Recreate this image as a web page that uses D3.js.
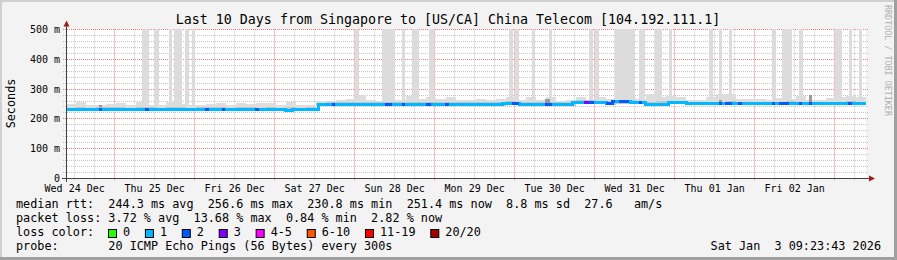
<!DOCTYPE html>
<html>
<head>
<meta charset="utf-8">
<script src="https://cdn.jsdelivr.net/npm/d3@7"></script>
<style>
  html, body { margin: 0; padding: 0; background: #f3f3f3; }
  svg { display: block; font-family: "DejaVu Sans Mono", monospace; }
  text { white-space: pre; }
</style>
</head>
<body>
<svg id="chart" width="897" height="260"></svg>
<script>
/* ---------- data ---------- */
const START = new Date(2025, 11, 24, 9, 23, 43);
const END   = new Date(2026, 0, 3, 9, 23, 43);
const TITLE = 'Last 10 Days from Singapore to [US/CA] China Telecom [104.192.111.1]';

const Y_TICKS  = [0, 100, 200, 300, 400, 500];
const Y_LABELS = ['0', '100 m', '200 m', '300 m', '400 m', '500 m'];

// median rtt, step breakpoints: hours since START -> ms
const MEDIAN_H  = [0, 65.7, 67.8, 75.6, 108.6, 109.8, 130.8, 135.9, 151.8, 162, 163.8, 169.2, 173.7, 180.6, 186];
const MEDIAN_MS = [231, 229, 231, 248, 250, 248, 251, 248, 256, 252, 257, 254, 250, 254, 251];

// spans where the median had more than 1 lost ping: [fromHour, toHour, lost]
const LOSS_SPANS = [
  [9.9, 10.8, 2], [23.7, 24.9, 2], [41.7, 42.9, 2], [46.8, 47.7, 2], [56.7, 57.9, 2],
  [79.8, 80.7, 2], [95.7, 97.8, 2], [100.7, 101.7, 2], [107.9, 109.5, 2], [113.7, 114.9, 2],
  [133.8, 135.9, 2], [143.7, 145.8, 2], [155.4, 156.9, 3], [156.9, 158.4, 2], [162, 164.7, 2],
  [165.9, 168.9, 2], [171.9, 172.8, 2], [195.9, 196.8, 2], [197.7, 199.8, 2], [201.6, 202.8, 2],
  [211.8, 212.7, 2], [213.9, 216.9, 2], [219.9, 220.8, 2], [222.9, 223.8, 2], [234.6, 235.8, 2]
];
const DEFAULT_LOSS = 1;

// smoke, 3-hour bins (80 bins over 10 days), ms
const SMOKE_LO = [
  227,227,226,227,227,226,227,227,226,227,227,227,226,227,227,226,227,227,226,227,
  227,226,225,227,227,244,244,243,244,244,244,243,244,244,244,244,245,244,244,243,
  244,244,244,244,246,246,244,244,243,244,244,251,251,250,248,251,250,250,246,246,
  249,249,246,247,246,246,247,246,246,246,247,246,246,246,247,246,246,246,247,246
];
const SMOKE_MID = [
  238,240,238,239,239,241,238,240,239,238,240,239,238,239,240,239,238,240,239,238,
  240,238,239,238,239,255,256,256,257,258,256,256,257,256,258,257,258,256,257,256,
  256,258,257,256,259,258,257,256,258,256,257,262,262,261,260,263,262,261,258,259,
  261,260,257,258,257,258,259,258,257,258,257,258,259,258,257,258,257,258,259,258
];
const SMOKE_HI = [
  250,258,247,248,250,253,247,256,248,248,257,250,247,247,250,252,246,252,250,252,
  254,247,258,248,247,260,260,262,266,280,262,260,258,262,277,268,274,266,274,262,
  262,268,262,266,274,262,275,262,274,260,265,274,265,275,268,275,274,266,285,275,
  277,274,262,262,275,283,283,266,268,266,262,270,268,276,262,264,270,274,278,272
];
const BIN_HOURS = 3;

// outlier smoke reaching past the top of the chart: [fromHour, toHour]
const SPIKES = [
  [22.8, 25.0], [26.5, 27.9], [30.8, 31.8], [32.5, 34.8], [35.6, 37.0], [37.8, 38.6],
  [86.6, 87.9], [94.8, 98.7], [100.9, 101.7], [103.9, 105.9], [108.8, 110.4],
  [132.9, 134.0], [134.6, 135.9], [139.9, 140.7], [144.8, 145.9], [156.9, 158.0],
  [158.6, 159.9], [164.6, 170.7], [171.9, 173.7], [176.7, 178.8], [181.0, 181.9],
  [192.9, 194.0], [195.9, 196.9], [198.9, 199.9], [211.8, 212.9], [214.7, 217.8],
  [219.9, 221.0], [230.7, 232.9], [235.0, 235.9], [237.9, 238.9]
];
// darker smoke smudges: [fromHour, toHour, lo, hi]
const DARK_SMOKE = [[9.9, 10.8, 240, 248], [143.7, 145.2, 250, 266], [195.9, 196.8, 250, 262], [222.9, 223.8, 250, 280]];

const LOSS_LABELS = ['0', '1', '2', '3', '4-5', '6-10', '11-19', '20/20'];
const LOSS_COLORS = ['#26ff00', '#00b8ff', '#0059ff', '#7e00ff', '#ff00ff', '#ff5500', '#ff0000', '#a10000'];
const LOSS_MAX    = [0, 1, 2, 3, 5, 10, 19, 20];

const LEGEND_ROWS = [
  'median rtt:  244.3 ms avg  256.6 ms max  230.8 ms min  251.4 ms now  8.8 ms sd  27.6   am/s',
  'packet loss: 3.72 % avg  13.68 % max  0.84 % min  2.82 % now',
  'loss color:',
  'probe:       20 ICMP Echo Pings (56 Bytes) every 300s'
];
const STAMP = 'Sat Jan  3 09:23:43 2026';

/* ---------- setup ---------- */
const W = 897, H = 260;
const L = 66, R = 866, T = 29.5, B = 178.5;
const svg = d3.select('#chart');
const at = h => new Date(START.getTime() + h * 3600e3);
const x = d3.scaleTime().domain([START, END]).range([L, R]);
const y = d3.scaleLinear().domain([0, 500]).range([B, T]);
const crisp = v => Math.floor(v) + 0.5;

function medianAt(h){
  let v = MEDIAN_MS[0];
  for(let i=0;i<MEDIAN_H.length;i++){ if(MEDIAN_H[i] <= h) v = MEDIAN_MS[i]; }
  return v;
}
function lossColor(n){ return LOSS_COLORS[LOSS_MAX.findIndex(m => n <= m)]; }

// background + 3D frame
svg.append('rect').attr('width', W).attr('height', H).attr('fill', '#f3f3f3');
svg.append('path').attr('d', `M0,0H${W}V2H2V${H}H0Z`).attr('fill', '#d0d0d0');
svg.append('path').attr('d', `M${W},0V${H}H0V${H-3}H${W-3}V0Z`).attr('fill', '#a0a0a0');

// canvas
svg.append('rect').attr('x', L).attr('y', T).attr('width', R - L).attr('height', B - T).attr('fill', '#fff');

const defs = svg.append('defs');
defs.append('clipPath').attr('id', 'plot')
  .append('rect').attr('x', L).attr('y', T - 0.5).attr('width', R - L).attr('height', B - T + 0.5);

/* ---------- grid ---------- */
const gGrid = svg.append('g');
const minorY = d3.range(20, 500, 20).filter(v => v % 100);
gGrid.selectAll('line.hmin').data(minorY).join('line')
  .attr('x1', L - 3).attr('x2', R + 2)
  .attr('y1', d => crisp(y(d))).attr('y2', d => crisp(y(d)))
  .attr('stroke', '#c8c8c8').attr('stroke-dasharray', '1,1');
const sixHours = d3.timeHour.every(6).range(START, END).filter(d => d.getHours() !== 0);
gGrid.selectAll('line.vmin').data(sixHours).join('line')
  .attr('x1', d => crisp(x(d))).attr('x2', d => crisp(x(d)))
  .attr('y1', T).attr('y2', B + 3)
  .attr('stroke', '#c8c8c8').attr('stroke-dasharray', '1,1');
gGrid.selectAll('line.hmaj').data(Y_TICKS.slice(1)).join('line')
  .attr('x1', L - 3).attr('x2', R + 2)
  .attr('y1', d => crisp(y(d))).attr('y2', d => crisp(y(d)))
  .attr('stroke', '#f08080').attr('stroke-dasharray', '1,1');
const days = d3.timeDay.range(START, END);
gGrid.selectAll('line.vmaj').data(days).join('line')
  .attr('x1', d => crisp(x(d))).attr('x2', d => crisp(x(d)))
  .attr('y1', T).attr('y2', B + 3)
  .attr('stroke', '#f08080').attr('stroke-dasharray', '1,1');

/* ---------- smoke ---------- */
const gData = svg.append('g').attr('clip-path', 'url(#plot)').attr('shape-rendering', 'crispEdges');
const bins = SMOKE_HI.map((hi, i) => ({ t: at(i * BIN_HOURS), lo: SMOKE_LO[i], mid: SMOKE_MID[i], hi }));
bins.push({ ...bins[bins.length - 1], t: END });

gData.append('path').datum(bins)
  .attr('fill', '#dddddd')
  .attr('d', d3.area().curve(d3.curveStepAfter).x(d => x(d.t)).y0(d => y(d.lo)).y1(d => y(d.hi)));

gData.selectAll('rect.spike').data(SPIKES).join('rect')
  .attr('x', d => x(at(d[0]))).attr('width', d => x(at(d[1])) - x(at(d[0])))
  .attr('y', y(520)).attr('height', d => y(medianAt(d[0])) - y(520))
  .attr('fill', '#dcdcdc');

gData.append('path').datum(bins)
  .attr('fill', '#c4c4c4')
  .attr('d', d3.area().curve(d3.curveStepAfter).x(d => x(d.t)).y0(d => y(d.lo)).y1(d => y(d.mid)));

gData.selectAll('rect.dark').data(DARK_SMOKE).join('rect')
  .attr('x', d => x(at(d[0]))).attr('width', d => x(at(d[1])) - x(at(d[0])))
  .attr('y', d => y(d[3])).attr('height', d => y(d[2]) - y(d[3]))
  .attr('fill', '#9a9a9a');

/* ---------- median line ---------- */
const medLine = d3.line().curve(d3.curveStepAfter).x(d => x(d[0])).y(d => crisp(y(d[1])));
const medPts = MEDIAN_H.map((h, i) => [at(h), MEDIAN_MS[i]]);
medPts.push([END, MEDIAN_MS[MEDIAN_MS.length - 1]]);
gData.append('path').datum(medPts)
  .attr('fill', 'none').attr('stroke', lossColor(DEFAULT_LOSS)).attr('stroke-width', 3)
  .attr('d', medLine);

gData.selectAll('path.loss').data(LOSS_SPANS).join('path')
  .attr('fill', 'none').attr('stroke-width', 3)
  .attr('stroke', d => lossColor(d[2]))
  .attr('d', d => {
    const pts = [[at(d[0]), medianAt(d[0])]];
    MEDIAN_H.forEach((h, i) => { if(h > d[0] && h < d[1]) pts.push([at(h), MEDIAN_MS[i]]); });
    pts.push([at(d[1]), medianAt(d[1] - 1e-6)]);
    return medLine(pts);
  });

/* ---------- axes ---------- */
const axisCol = '#404040', arrowCol = '#a01c1c';
svg.append('line').attr('x1', L - 4).attr('x2', R + 3).attr('y1', B).attr('y2', B).attr('stroke', axisCol);
svg.append('line').attr('x1', L + 0.5).attr('x2', L + 0.5).attr('y1', B + 3.5).attr('y2', 25).attr('stroke', axisCol);
svg.append('path').attr('d', `M${L + 0.5},20.5L${L + 3.5},26.5L${L - 2.5},26.5Z`).attr('fill', arrowCol);
svg.append('path').attr('d', `M${R + 9},${B}L${R + 3},${B - 3}L${R + 3},${B + 3}Z`).attr('fill', arrowCol);

svg.append('g').selectAll('text').data(Y_TICKS).join('text')
  .attr('x', 60).attr('y', d => y(d)).attr('dy', '0.35em')
  .attr('text-anchor', 'end').attr('font-size', '10px').attr('fill', '#000')
  .text((d, i) => Y_LABELS[i]);

// day labels sit at noon of each day
const fmtDay = d3.timeFormat('%a %d %b');
const noons = d3.timeHour.range(START, END).filter(d => d.getHours() === 12);
svg.append('g').selectAll('text').data(noons).join('text')
  .attr('x', d => x(d)).attr('y', 191.5)
  .attr('text-anchor', 'middle').attr('font-size', '10px').attr('fill', '#000')
  .text(fmtDay);

/* ---------- titles ---------- */
svg.append('text').attr('x', 448).attr('y', 23.5).attr('text-anchor', 'middle')
  .attr('font-size', '13.3px').attr('fill', '#000').text(TITLE);
svg.append('text').attr('transform', 'translate(15,103.5) rotate(-90)').attr('text-anchor', 'middle')
  .attr('font-size', '11.8px').attr('fill', '#000').text('Seconds');
svg.append('text').attr('transform', 'translate(885,5) rotate(90)')
  .attr('font-size', '8.4px').attr('fill', '#b0b0b0').text('RRDTOOL / TOBI OETIKER');

/* ---------- legend ---------- */
const rowY = [208.3, 222.3, 236.3, 250.3];
const gLeg = svg.append('g').attr('font-size', '11.8px').attr('fill', '#000');
LEGEND_ROWS.forEach((s, i) => gLeg.append('text').attr('x', 16).attr('y', rowY[i]).text(s));
gLeg.append('text').attr('x', 881).attr('y', rowY[3]).attr('text-anchor', 'end').text(STAMP);

let lx = 108;
LOSS_LABELS.forEach((lab, i) => {
  gLeg.append('rect').attr('x', lx + 0.5).attr('y', 229.5).attr('width', 8).attr('height', 8)
    .attr('fill', LOSS_COLORS[i]).attr('stroke', '#000').attr('stroke-width', 1);
  const t = gLeg.append('text').attr('x', lx + 15).attr('y', rowY[2]).text(lab);
  lx = lx + 15 + t.node().getComputedTextLength() + 14.8;
});
</script>
</body>
</html>
